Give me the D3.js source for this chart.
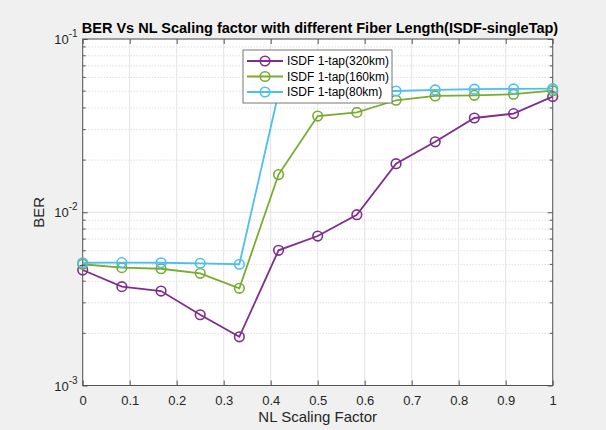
<!DOCTYPE html>
<html><head><meta charset="utf-8">
<script src="https://cdn.jsdelivr.net/npm/d3@7"></script>
<style>
body{margin:0;background:#f0f0f0}
text{font-family:"Liberation Sans",Arial,sans-serif}
</style>
</head><body>
<svg id="c" width="606" height="430"></svg>
<script>
// ---- data ----
const nlFactor = [0, 0.0833, 0.1667, 0.25, 0.3333, 0.4167, 0.5, 0.5833, 0.6667, 0.75, 0.8333, 0.9167, 1];
const ber320 = [4.64e-3, 3.72e-3, 3.51e-3, 2.56e-3, 1.91e-3, 6.03e-3, 7.29e-3, 9.68e-3, 1.906e-2, 2.55e-2, 3.50e-2, 3.71e-2, 4.65e-2];
const ber160 = [5.01e-3, 4.79e-3, 4.72e-3, 4.44e-3, 3.64e-3, 1.65e-2, 3.59e-2, 3.77e-2, 4.43e-2, 4.69e-2, 4.73e-2, 4.80e-2, 5.03e-2];
const ber80  = [5.11e-3, 5.12e-3, 5.11e-3, 5.07e-3, 5.01e-3, 4.88e-2, 4.90e-2, 4.95e-2, 5.01e-2, 5.08e-2, 5.13e-2, 5.15e-2, 5.17e-2];
const seriesNames = ["ISDF 1-tap(320km)", "ISDF 1-tap(160km)", "ISDF 1-tap(80km)"];
const xTicks = [0, 0.1, 0.2, 0.3, 0.4, 0.5, 0.6, 0.7, 0.8, 0.9, 1];
const yTicks = [1e-3, 1e-2, 1e-1];
const yTickExp = ["-3", "-2", "-1"];
const title = "BER Vs NL Scaling factor with different Fiber Length(ISDF-singleTap)";
const xLabel = "NL Scaling Factor";
const yLabel = "BER";

const colors = ["#7E2F8E", "#77AC30", "#4DBEEE"];
const allSeries = [ber320, ber160, ber80];

const svg = d3.select("#c");
const L = 82.7, T = 39, W = 470, H = 346.5;
const x = d3.scaleLinear().domain([0, 1]).range([L, L + W]);
const y = d3.scaleLog().domain([1e-3, 1e-1]).range([T + H, T]);

// plot background
svg.append("rect").attr("x", L).attr("y", T).attr("width", W).attr("height", H).attr("fill", "#fff");

// minor grid
const minorY = [];
[1e-3, 1e-2].forEach(d => { for (let k = 2; k <= 9; k++) minorY.push(d * k); });
svg.append("g").selectAll("line").data(minorY).join("line")
  .attr("x1", L).attr("x2", L + W).attr("y1", d => y(d)).attr("y2", d => y(d))
  .attr("stroke", "#cfcfcf").attr("stroke-width", 1).attr("stroke-dasharray", "1,2");
// major grid
svg.append("g").selectAll("line").data(xTicks).join("line")
  .attr("x1", d => x(d)).attr("x2", d => x(d)).attr("y1", T).attr("y2", T + H)
  .attr("stroke", "#e3e3e3").attr("stroke-width", 1);
svg.append("g").selectAll("line").data(yTicks).join("line")
  .attr("x1", L).attr("x2", L + W).attr("y1", d => y(d)).attr("y2", d => y(d))
  .attr("stroke", "#e3e3e3").attr("stroke-width", 1);

// axes (ticks inward)
const axCol = "#555";
const xb = svg.append("g").attr("transform", `translate(0,${T + H})`)
  .call(d3.axisBottom(x).tickValues(xTicks).tickSizeInner(-5).tickSizeOuter(0).tickPadding(10).tickFormat(d3.format("")));
const xt = svg.append("g").attr("transform", `translate(0,${T})`)
  .call(d3.axisTop(x).tickValues(xTicks).tickSizeInner(-5).tickSizeOuter(0).tickFormat(""));
const yl = svg.append("g").attr("transform", `translate(${L},0)`)
  .call(d3.axisLeft(y).tickValues(yTicks).tickSizeInner(-5).tickSizeOuter(0).tickFormat(""));
const yr = svg.append("g").attr("transform", `translate(${L + W},0)`)
  .call(d3.axisRight(y).tickValues(yTicks).tickSizeInner(-5).tickSizeOuter(0).tickFormat(""));
// minor ticks
svg.append("g").selectAll("line").data(minorY).join("line")
  .attr("x1", L).attr("x2", L + 3).attr("y1", d => y(d)).attr("y2", d => y(d)).attr("stroke", axCol);
svg.append("g").selectAll("line").data(minorY).join("line")
  .attr("x1", L + W - 3).attr("x2", L + W).attr("y1", d => y(d)).attr("y2", d => y(d)).attr("stroke", axCol);
[xb, xt, yl, yr].forEach(g => { g.selectAll("path,line").attr("stroke", axCol); g.select(".domain").remove(); });
xb.selectAll("text").attr("font-size", 13).attr("fill", "#262626").attr("font-family", "Liberation Sans, Arial, sans-serif");
svg.append("rect").attr("x", L).attr("y", T).attr("width", W).attr("height", H)
  .attr("fill", "none").attr("stroke", axCol).attr("stroke-width", 1);

// y tick labels 10^n
yTicks.forEach((d, i) => {
  const t = svg.append("text").attr("x", L - 5).attr("y", y(d) + 5).attr("text-anchor", "end")
    .attr("font-size", 13).attr("fill", "#262626");
  t.append("tspan").text("10");
  t.append("tspan").attr("dy", -7).attr("font-size", 10).text(yTickExp[i]);
});

// lines + markers
const line = d3.line().x((d, i) => x(nlFactor[i])).y(d => y(d));
allSeries.forEach((s, k) => {
  svg.append("path").datum(s).attr("d", line).attr("fill", "none")
    .attr("stroke", colors[k]).attr("stroke-width", 1.8);
  svg.append("g").selectAll("circle").data(s).join("circle")
    .attr("cx", (d, i) => x(nlFactor[i])).attr("cy", d => y(d)).attr("r", 4.8)
    .attr("fill", "none").attr("stroke", colors[k]).attr("stroke-width", 1.6);
});

// legend
const lg = svg.append("g");
lg.append("rect").attr("x", 243).attr("y", 50).attr("width", 149).attr("height", 53)
  .attr("fill", "#fff").attr("stroke", "#777").attr("stroke-width", 1);
seriesNames.forEach((n, k) => {
  const yy = 61 + k * 15.5;
  lg.append("line").attr("x1", 247).attr("x2", 283).attr("y1", yy).attr("y2", yy)
    .attr("stroke", colors[k]).attr("stroke-width", 1.8);
  lg.append("circle").attr("cx", 265).attr("cy", yy).attr("r", 4.8)
    .attr("fill", "none").attr("stroke", colors[k]).attr("stroke-width", 1.6);
  lg.append("text").attr("x", 287).attr("y", yy + 4.3).attr("font-size", 12).attr("fill", "#000").text(n);
});

// title & labels
svg.append("text").attr("x", 320).attr("y", 33).attr("text-anchor", "middle")
  .attr("font-size", 14.5).attr("font-weight", "bold").attr("fill", "#000").text(title);
svg.append("text").attr("x", L + W / 2).attr("y", 422).attr("text-anchor", "middle")
  .attr("font-size", 15).attr("fill", "#262626").text(xLabel);
svg.append("text").attr("transform", `translate(44,${y(1e-2)}) rotate(-90)`).attr("text-anchor", "middle")
  .attr("font-size", 15).attr("fill", "#262626").text(yLabel);
</script>
</body></html>
